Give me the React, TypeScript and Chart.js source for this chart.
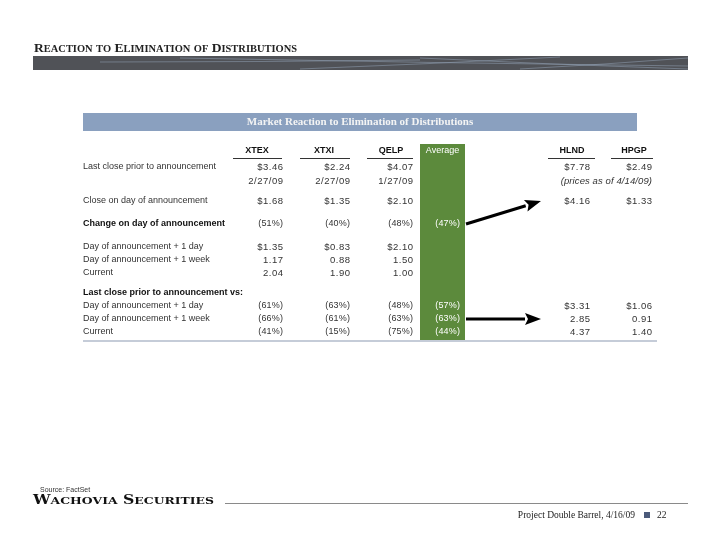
import { useEffect, useRef } from 'react';
import { Chart, registerables } from 'chart.js';
Chart.register(...registerables);

// ---------- DATA ----------
const SLIDE_TITLE = 'Reaction to Elimination of Distributions';
const TABLE_TITLE = 'Market Reaction to Elimination of Distributions';
const COMPANIES = ['XTEX', 'XTXI', 'QELP'];
const AVG_LABEL = 'Average';
const PEERS = ['HLND', 'HPGP'];

const LAST_CLOSE = [3.46, 2.24, 4.07];
const LAST_CLOSE_DATES = ['2/27/09', '2/27/09', '1/27/09'];
const CLOSE_ON_DAY = [1.68, 1.35, 2.1];
const CHANGE_ON_DAY = [-51, -40, -48];
const AVG_CHANGE_ON_DAY = -47;
const PLUS_1_DAY = [1.35, 0.83, 2.1];
const PLUS_1_WEEK = [1.17, 0.88, 1.5];
const CURRENT = [2.04, 1.9, 1.0];
const VS_1_DAY = [-61, -63, -48];
const VS_1_WEEK = [-66, -61, -63];
const VS_CURRENT = [-41, -15, -75];
const AVG_VS = [-57, -63, -44];

const PEER_LAST_CLOSE = [7.78, 2.49];
const PEER_PRICE_NOTE = '(prices as of 4/14/09)';
const PEER_IMPLIED_CLOSE = [4.16, 1.33];
const PEER_IMPLIED_1_DAY = [3.31, 1.06];
const PEER_IMPLIED_1_WEEK = [2.85, 0.91];
const PEER_IMPLIED_CURRENT = [4.37, 1.4];

const ROW_LABELS = [
  'Last close prior to announcement',
  '',
  'Close on day of announcement',
  'Change on day of announcement',
  'Day of announcement + 1 day',
  'Day of announcement + 1 week',
  'Current',
  'Last close prior to announcement vs:',
  'Day of announcement + 1 day',
  'Day of announcement + 1 week',
  'Current',
];
const BOLD_ROWS = [3, 7];

const SOURCE = 'Source: FactSet';
const BRAND = 'Wachovia Securities';
const FOOTER = 'Project Double Barrel, 4/16/09';
const PAGE = '22';

// ---------- LAYOUT (positions / styles) ----------
const LAYOUT = {
  labelX: 83,
  colRight: [283, 350, 413],
  colCenter: [257, 324, 391],
  colLine: [[233, 282], [300, 350], [367, 413]],
  avgRight: 460,
  avgBox: [420, 465],
  avgCenter: 442.5,
  peerRight: [590, 652],
  peerCenter: [572, 634],
  peerLine: [[548, 595], [611, 653]],
  headerY: 151,
  rowY: [167, 181, 201, 224, 247, 260, 273, 293, 306, 319, 332],
  tableTop: 144,
  tableBottom: 340,
  tableLeft: 83,
  tableRight: 657,
  bandTop: 113,
  bandBottom: 131,
  bandRight: 637,
};

const SANS = '"Liberation Sans", Arial, sans-serif';
const SERIF = '"Liberation Serif", "DejaVu Serif", serif';
const BRAND_SERIF = '"DejaVu Serif", "Liberation Serif", serif';
const TEXT = '#333333';
const GREEN = '#5c8a3c';
const BAND_BLUE = '#8aa0bf';
const DARK_BAND = '#505257';

const money = (v: number) => '$' + v.toFixed(2);
const plain = (v: number) => v.toFixed(2);
const pct = (v: number) => (v < 0 ? '(' + Math.abs(v) + '%)' : v + '%');

type Cell = { t: string; wide: boolean };
type Row = { cells: Cell[]; avg: string | null; peers: Cell[]; peerNote?: string };
const W = (t: string): Cell => ({ t, wide: true });
const N = (t: string): Cell => ({ t, wide: false });
const ROWS: Row[] = [
  { cells: LAST_CLOSE.map(money).map(W), avg: null, peers: PEER_LAST_CLOSE.map(money).map(W) },
  { cells: LAST_CLOSE_DATES.map(W), avg: null, peers: [], peerNote: PEER_PRICE_NOTE },
  { cells: CLOSE_ON_DAY.map(money).map(W), avg: null, peers: PEER_IMPLIED_CLOSE.map(money).map(W) },
  { cells: CHANGE_ON_DAY.map(pct).map(N), avg: pct(AVG_CHANGE_ON_DAY), peers: [] },
  { cells: PLUS_1_DAY.map(money).map(W), avg: null, peers: [] },
  { cells: PLUS_1_WEEK.map(plain).map(W), avg: null, peers: [] },
  { cells: CURRENT.map(plain).map(W), avg: null, peers: [] },
  { cells: [], avg: null, peers: [] },
  { cells: VS_1_DAY.map(pct).map(N), avg: pct(AVG_VS[0]), peers: PEER_IMPLIED_1_DAY.map(money).map(W) },
  { cells: VS_1_WEEK.map(pct).map(N), avg: pct(AVG_VS[1]), peers: PEER_IMPLIED_1_WEEK.map(plain).map(W) },
  { cells: VS_CURRENT.map(pct).map(N), avg: pct(AVG_VS[2]), peers: PEER_IMPLIED_CURRENT.map(plain).map(W) },
];

function drawSmallCaps(
  ctx: CanvasRenderingContext2D, text: string, x: number, y: number,
  big: number, small: number, family: string, targetWidth: number, color: string,
) {
  const pieces: { ch: string; size: number }[] = [];
  for (const ch of text) {
    const isUpper = ch !== ' ' && ch === ch.toUpperCase();
    pieces.push({ ch: ch.toUpperCase(), size: isUpper || ch === ' ' ? big : small });
  }
  let w = 0;
  for (const p of pieces) {
    ctx.font = `bold ${p.size}px ${family}`;
    w += ctx.measureText(p.ch).width;
  }
  const s = targetWidth / w;
  ctx.save();
  ctx.translate(x, y);
  ctx.scale(s, 1);
  let cx = 0;
  ctx.fillStyle = color;
  ctx.textAlign = 'left';
  ctx.textBaseline = 'alphabetic';
  for (const p of pieces) {
    ctx.font = `bold ${p.size}px ${family}`;
    ctx.fillText(p.ch, cx, 0);
    cx += ctx.measureText(p.ch).width;
  }
  ctx.restore();
}

function arrow(ctx: CanvasRenderingContext2D, x1: number, y1: number, x2: number, y2: number) {
  const ang = Math.atan2(y2 - y1, x2 - x1);
  const headLen = 16;
  const headW = 6;
  const bx = x2 - headLen * Math.cos(ang);
  const by = y2 - headLen * Math.sin(ang);
  ctx.strokeStyle = '#000';
  ctx.fillStyle = '#000';
  ctx.lineWidth = 3;
  ctx.beginPath();
  ctx.moveTo(x1, y1);
  ctx.lineTo(bx, by);
  ctx.stroke();
  ctx.beginPath();
  ctx.moveTo(x2, y2);
  ctx.lineTo(bx + headW * Math.sin(ang), by - headW * Math.cos(ang));
  ctx.lineTo(bx + 3 * Math.cos(ang), by + 3 * Math.sin(ang));
  ctx.lineTo(bx - headW * Math.sin(ang), by + headW * Math.cos(ang));
  ctx.closePath();
  ctx.fill();
}

function setSpacing(ctx: CanvasRenderingContext2D, px: number) {
  (ctx as any).letterSpacing = px + 'px';
}

const tablePlugin = {
  id: 'slideTable',
  afterDraw(chart: any) {
    const ctx: CanvasRenderingContext2D = chart.ctx;
    const sx = chart.scales.x;
    const sy = chart.scales.y;
    const X = (v: number) => sx.getPixelForValue(v);
    const Y = (v: number) => sy.getPixelForValue(v);
    const L = LAYOUT;
    ctx.save();

    // slide title
    drawSmallCaps(ctx, SLIDE_TITLE, X(34), Y(52), 13, 10, SERIF, 263, '#222222');

    // dark header band with streaks
    ctx.fillStyle = DARK_BAND;
    ctx.fillRect(X(33), Y(56), X(688) - X(33), Y(70) - Y(56));
    ctx.strokeStyle = 'rgba(150,165,185,0.5)';
    ctx.lineWidth = 1;
    const streaks = [[180, 58, 688, 66], [300, 69, 560, 57], [420, 58, 688, 69], [100, 62, 420, 60], [520, 69, 688, 58]];
    for (const s of streaks) {
      ctx.beginPath();
      ctx.moveTo(X(s[0]), Y(s[1]));
      ctx.quadraticCurveTo(X((s[0] + s[2]) / 2), Y((s[1] + s[3]) / 2 + 1), X(s[2]), Y(s[3]));
      ctx.stroke();
    }

    // table title band
    ctx.fillStyle = BAND_BLUE;
    ctx.fillRect(X(L.tableLeft), Y(L.bandTop), X(L.bandRight) - X(L.tableLeft), Y(L.bandBottom) - Y(L.bandTop));
    ctx.fillStyle = '#f4f4f4';
    ctx.font = `bold 11px ${SERIF}`;
    ctx.textAlign = 'center';
    ctx.textBaseline = 'middle';
    ctx.fillText(TABLE_TITLE, X((L.tableLeft + L.bandRight) / 2), Y((L.bandTop + L.bandBottom) / 2 + 0.5));

    // green average column
    ctx.fillStyle = GREEN;
    ctx.fillRect(X(L.avgBox[0]), Y(L.tableTop), X(L.avgBox[1]) - X(L.avgBox[0]), Y(L.tableBottom) - Y(L.tableTop));

    // headers
    ctx.textBaseline = 'middle';
    ctx.textAlign = 'center';
    ctx.font = `bold 9px ${SANS}`;
    ctx.fillStyle = '#111';
    COMPANIES.forEach((c, i) => ctx.fillText(c, X(L.colCenter[i]), Y(L.headerY)));
    PEERS.forEach((c, i) => ctx.fillText(c, X(L.peerCenter[i]), Y(L.headerY)));
    ctx.fillStyle = '#ffffff';
    ctx.font = `9px ${SANS}`;
    ctx.fillText(AVG_LABEL, X(L.avgCenter), Y(L.headerY));
    ctx.strokeStyle = '#333';
    ctx.lineWidth = 1;
    [...L.colLine, ...L.peerLine].forEach(([a, b]) => {
      ctx.beginPath();
      ctx.moveTo(X(a), Y(L.headerY + 7.5));
      ctx.lineTo(X(b), Y(L.headerY + 7.5));
      ctx.stroke();
    });

    // rows
    const drawCell = (c: Cell, x: number, y: number) => {
      ctx.font = c.wide ? `9.5px ${SANS}` : `9px ${SANS}`;
      const sp = c.wide ? 0.5 : 0.2;
      setSpacing(ctx, sp);
      ctx.fillText(c.t, x + sp, y);
      setSpacing(ctx, 0);
    };
    ROWS.forEach((r, i) => {
      const y = Y(L.rowY[i]);
      const bold = BOLD_ROWS.includes(i);
      ctx.textAlign = 'left';
      ctx.fillStyle = bold ? '#111' : TEXT;
      ctx.font = `${bold ? 'bold ' : ''}9px ${SANS}`;
      if (ROW_LABELS[i]) ctx.fillText(ROW_LABELS[i], X(L.labelX), y);
      ctx.textAlign = 'right';
      ctx.fillStyle = TEXT;
      r.cells.forEach((c, j) => drawCell(c, X(L.colRight[j]), y));
      r.peers.forEach((c, j) => drawCell(c, X(L.peerRight[j]), y));
      if (r.peerNote) {
        ctx.font = `italic 9.5px ${SANS}`;
        setSpacing(ctx, 0.1);
        ctx.fillText(r.peerNote, X(L.peerRight[1]) + 0.1, y);
        setSpacing(ctx, 0);
      }
      if (r.avg) {
        ctx.fillStyle = '#ffffff';
        drawCell(N(r.avg), X(L.avgRight), y);
      }
    });

    // bottom rule
    ctx.strokeStyle = '#c5ccd8';
    ctx.lineWidth = 2;
    ctx.beginPath();
    ctx.moveTo(X(L.tableLeft), Y(L.tableBottom + 1));
    ctx.lineTo(X(L.tableRight), Y(L.tableBottom + 1));
    ctx.stroke();

    // arrows
    arrow(ctx, X(L.avgBox[1] + 1), Y(L.rowY[3]), X(541), Y(L.rowY[2]));
    arrow(ctx, X(L.avgBox[1] + 1), Y(L.rowY[9]), X(541), Y(L.rowY[9]));

    // footer
    ctx.textAlign = 'left';
    ctx.textBaseline = 'alphabetic';
    ctx.fillStyle = '#333';
    ctx.font = `7px ${SANS}`;
    ctx.fillText(SOURCE, X(40), Y(491.5));
    drawSmallCaps(ctx, BRAND, X(33), Y(504), 12, 9.5, BRAND_SERIF, 181, '#111111');
    ctx.strokeStyle = '#8a8a8a';
    ctx.lineWidth = 1;
    ctx.beginPath();
    ctx.moveTo(X(225), Y(503.5));
    ctx.lineTo(X(688), Y(503.5));
    ctx.stroke();
    ctx.font = `9.5px ${SERIF}`;
    ctx.fillStyle = '#222';
    ctx.textAlign = 'right';
    ctx.fillText(FOOTER, X(635), Y(518));
    ctx.fillStyle = '#4b5a7a';
    ctx.fillRect(X(644), Y(512), 6, 6);
    ctx.fillStyle = '#222';
    ctx.textAlign = 'left';
    ctx.fillText(PAGE, X(657), Y(518));

    ctx.restore();
  },
};

export default function App() {
  const ref = useRef<HTMLCanvasElement | null>(null);
  useEffect(() => {
    document.body.style.margin = '0';
    const canvas = ref.current!;
    const chart = new Chart(canvas, {
      type: 'scatter',
      data: { datasets: [] },
      options: {
        animation: false,
        responsive: false,
        devicePixelRatio: 1,
        layout: { padding: 0 },
        plugins: { legend: { display: false }, tooltip: { enabled: false } },
        scales: {
          x: { type: 'linear', min: 0, max: 720, display: false },
          y: { type: 'linear', min: 0, max: 556, reverse: true, display: false },
        },
      },
      plugins: [tablePlugin],
    });
    return () => chart.destroy();
  }, []);
  return (
    <div style={{ width: 720, height: 556, background: '#fff' }}>
      <canvas ref={ref} width={720} height={556} style={{ display: 'block', width: 720, height: 556 }} />
    </div>
  );
}
